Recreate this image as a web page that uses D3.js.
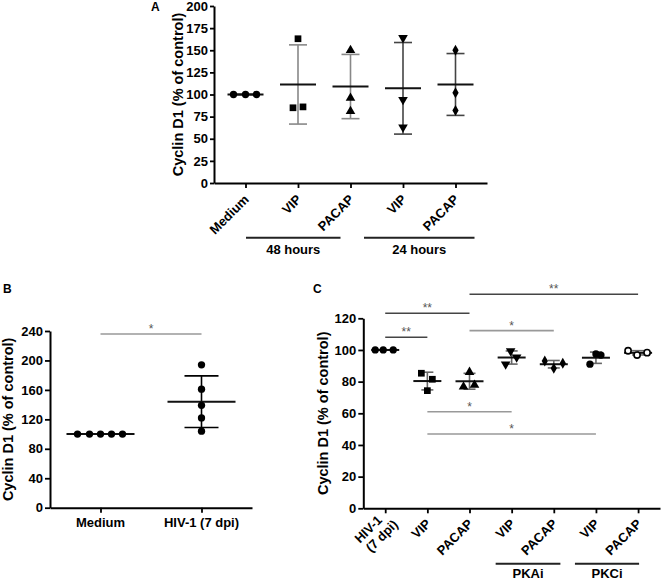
<!DOCTYPE html>
<html><head><meta charset="utf-8">
<script src="https://cdn.jsdelivr.net/npm/d3@7"></script>
<style>
body{margin:0;background:#fff}
svg{display:block;font-family:"Liberation Sans",Arial,sans-serif}
</style></head><body>
<svg id="chart" width="661" height="581"></svg>
<script>
// ---------------- DATA ----------------
// Panel A
const catsA = ["Medium", "VIP", "PACAP", "VIP", "PACAP"];
const valuesA = [[100, 100, 100], [163, 85, 86], [150, 96, 81], [164, 94, 63], [150, 102, 82]];
const ticksA = [0, 25, 50, 75, 100, 125, 150, 175, 200];
const groupsA = [{label: "48 hours", from: 1, to: 2}, {label: "24 hours", from: 3, to: 4}];

// Panel B
const catsB = ["Medium", "HIV-1 (7 dpi)"];
const valuesB = [[100, 100, 100, 100, 100], [194, 161, 139, 122, 104]];
const ticksB = [0, 40, 80, 120, 160, 200, 240];
const sigB = [{from: 0, to: 1, label: "*"}];

// Panel C
const catsC = [["HIV-1", "(7 dpi)"], ["VIP"], ["PACAP"], ["VIP"], ["PACAP"], ["VIP"], ["PACAP"]];
const valuesC = [[100, 100, 100], [85.3, 81.5, 74.3], [86, 76.8, 77.9], [99.3, 95.4, 91],
                 [93, 88.4, 91.6], [91, 97.5, 96.8], [99.5, 96.8, 98.3]];
const ticksC = [0, 20, 40, 60, 80, 100, 120];
const groupsC = [{label: "PKAi", from: 3, to: 4}, {label: "PKCi", from: 5, to: 6}];
const sigC = [{from: 0, to: 1, label: "**"}, {from: 0, to: 2, label: "**"}, {from: 2, to: 6, label: "**"},
              {from: 2, to: 4, label: "*"}, {from: 1, to: 3, label: "*"}, {from: 1, to: 5, label: "*"}];

const yTitle = "Cyclin D1 (% of control)";

// ---------------- LAYOUT / STYLE ----------------
const svg = d3.select("#chart");
const FONT_TICK = 13, FONT_TITLE = 14.5;

function symbolPath(shape, size) {
  const map = {circle: d3.symbolCircle, square: d3.symbolSquare, triangle: d3.symbolTriangle,
               triangleDown: d3.symbolTriangle, diamond: d3.symbolDiamond, circleOpen: d3.symbolCircle};
  return d3.symbol().type(map[shape]).size(size)();
}

function drawPanel(p) {
  const g = svg.append("g");
  const x = d3.scalePoint().domain(d3.range(p.cats.length)).range(p.xRange).padding(p.xPad);
  const y = d3.scaleLinear().domain(p.yDomain).range(p.yRange);
  const y0 = p.yRange[0];

  // y axis
  const ya = g.append("g").attr("transform", `translate(${p.xRange[0]},0)`)
    .call(d3.axisLeft(y).tickValues(p.ticks).tickSize(p.tickSize).tickPadding(p.tickPad).tickSizeOuter(0));
  ya.select(".domain").attr("stroke", "#000").attr("stroke-width", 2);
  ya.selectAll(".tick line").attr("stroke", "#000").attr("stroke-width", 1.8);
  ya.selectAll(".tick text").attr("font-size", FONT_TICK).attr("font-weight", "bold").attr("fill", "#000");

  // x axis
  const xa = g.append("g").attr("transform", `translate(0,${y0})`)
    .call(d3.axisBottom(x).tickSize(5).tickSizeOuter(0).tickFormat(""));
  xa.select(".domain").attr("stroke", "#000").attr("stroke-width", 2);
  xa.selectAll(".tick line").attr("stroke", "#000").attr("stroke-width", 1.8);

  // x labels
  p.cats.forEach((c, i) => {
    const lines = Array.isArray(c) ? c : [c];
    if (p.rotate) {
      const t = g.append("text")
        .attr("transform", `translate(${x(i) + p.lblDx},${y0 + p.lblDy}) rotate(-45)`)
        .attr("text-anchor", "end").attr("font-size", FONT_TICK).attr("font-weight", "bold");
      if (lines.length === 1) {
        t.append("tspan").attr("x", 0).attr("dy", "0.35em").text(lines[0]);
      } else {
        t.append("tspan").attr("x", -2).attr("y", 0).attr("dy", "-0.2em").text(lines[0]);
        t.append("tspan").attr("x", 6).attr("y", 0).attr("dy", "0.9em").text(lines[1]);
      }
    } else {
      g.append("text").attr("x", x(i)).attr("y", y0 + p.lblDy)
        .attr("text-anchor", "middle").attr("font-size", FONT_TICK).attr("font-weight", "bold").text(lines[0]);
    }
  });

  // group lines
  (p.groups || []).forEach((gr, k) => {
    const ext = p.groupExt[k];
    const x1 = x(gr.from) + ext[0], x2 = x(gr.to) + ext[1];
    g.append("line").attr("x1", x1).attr("x2", x2).attr("y1", y0 + p.groupLineDy).attr("y2", y0 + p.groupLineDy)
      .attr("stroke", "#222").attr("stroke-width", 2);
    g.append("text").attr("x", (x1 + x2) / 2).attr("y", y0 + p.groupTextDy).attr("text-anchor", "middle")
      .attr("font-size", FONT_TICK).attr("font-weight", "bold").text(gr.label);
  });

  // y title
  g.append("text").attr("transform", `translate(${p.titleX},${(p.yRange[0] + p.yRange[1]) / 2}) rotate(-90)`)
    .attr("text-anchor", "middle").attr("dy", "0.35em").attr("font-size", FONT_TITLE).attr("font-weight", "bold")
    .text(yTitle);

  // panel letter
  g.append("text").attr("x", p.letterX).attr("y", p.letterY).attr("font-size", 12).attr("font-weight", "bold").text(p.letter);

  // significance
  (p.sig || []).forEach((s, k) => {
    const ly = y(p.sigLevels[k]);
    const col = s.label === "**" ? "#444" : "#999";
    g.append("line").attr("x1", x(s.from)).attr("x2", x(s.to)).attr("y1", ly).attr("y2", ly)
      .attr("stroke", col).attr("stroke-width", 1.6);
    g.append("text").attr("x", (x(s.from) + x(s.to)) / 2).attr("y", ly - 1).attr("text-anchor", "middle")
      .attr("font-size", 12).attr("fill", "#555").text(s.label);
  });

  // data
  p.values.forEach((vals, i) => {
    const m = d3.mean(vals), sd = d3.deviation(vals) || 0;
    const cx = x(i);
    const ecol = p.errColor[i];
    g.append("line").attr("x1", cx).attr("x2", cx).attr("y1", y(m - sd)).attr("y2", y(m + sd))
      .attr("stroke", ecol).attr("stroke-width", 1.6);
    [m - sd, m + sd].forEach(v => g.append("line").attr("x1", cx - p.capW).attr("x2", cx + p.capW)
      .attr("y1", y(v)).attr("y2", y(v)).attr("stroke", ecol).attr("stroke-width", 1.6));
    g.append("line").attr("x1", cx - p.meanW).attr("x2", cx + p.meanW).attr("y1", y(m)).attr("y2", y(m))
      .attr("stroke", "#111").attr("stroke-width", 2);
    const shape = p.shapes[i];
    vals.forEach((v, j) => {
      const px = cx + p.jitter[i][j], py = y(v);
      const rot = shape === "triangleDown" ? " rotate(180)" : "";
      g.append("path").attr("d", symbolPath(shape, p.symSize[shape]))
        .attr("transform", `translate(${px},${py})${rot}`)
        .attr("fill", shape === "circleOpen" ? "#fff" : "#000")
        .attr("stroke", shape === "circleOpen" ? "#000" : "none")
        .attr("stroke-width", 1.6);
    });
  });
}

const symSize = {circle: 42, square: 45, triangle: 40, triangleDown: 40, diamond: 34, circleOpen: 30};

drawPanel({
  cats: catsA, values: valuesA, ticks: ticksA, groups: groupsA, groupExt: [[-52, -10], [-39, 19]],
  xRange: [214, 487], xPad: 0.6, yDomain: [0, 200], yRange: [183, 6],
  tickSize: 4, tickPad: 2, rotate: true, lblDx: 1, lblDy: 14,
  groupLineDy: 54.7, groupTextDy: 71,
  titleX: 177.5, letter: "A", letterX: 151, letterY: 11,
  shapes: ["circle", "square", "triangle", "triangleDown", "diamond"],
  jitter: [[-12, 0, 11], [0, -5, 5], [0, 0, 0], [0, 0, 0], [0, 0, 0]],
  errColor: ["#000", "#888", "#888", "#444", "#444"],
  capW: 9, meanW: 18, symSize
});

drawPanel({
  cats: catsB, values: valuesB, ticks: ticksB, sig: sigB, sigLevels: [236],
  xRange: [50, 252], xPad: 0.5, yDomain: [0, 240], yRange: [507.7, 331],
  tickSize: 5, tickPad: 2, rotate: false, lblDy: 19.6,
  titleX: 8, letter: "B", letterX: 3, letterY: 293.3,
  shapes: ["circle", "circle"],
  jitter: [[-23, -11, 0, 11, 22], [0, 0, 0, 0, 0]],
  errColor: ["#000", "#000"],
  capW: 17, meanW: 34, symSize
});

drawPanel({
  cats: catsC, values: valuesC, ticks: ticksC, groups: groupsC, groupExt: [[-16, 6.6], [-21, 1]],
  sig: sigC, sigLevels: [108, 123.2, 135.2, 112.2, 61, 46.9],
  xRange: [363.3, 660], xPad: 0.52, yDomain: [0, 120], yRange: [508.3, 318.3],
  tickSize: 5, tickPad: 2, rotate: true, lblDx: 1, lblDy: 13,
  groupLineDy: 55.5, groupTextDy: 69.5,
  titleX: 323, letter: "C", letterX: 313, letterY: 292.7,
  shapes: ["circle", "square", "triangle", "triangleDown", "diamond", "circle", "circleOpen"],
  jitter: [[-10, -2, 8], [-6, 5, 0], [0, -6, 5], [-1, 5, -6], [-9, 0, 9], [-6, 0, 5], [-10, -1, 9]],
  errColor: ["#000", "#666", "#666", "#666", "#666", "#666", "#666"],
  capW: 6, meanW: 14, symSize
});
</script>
</body></html>
